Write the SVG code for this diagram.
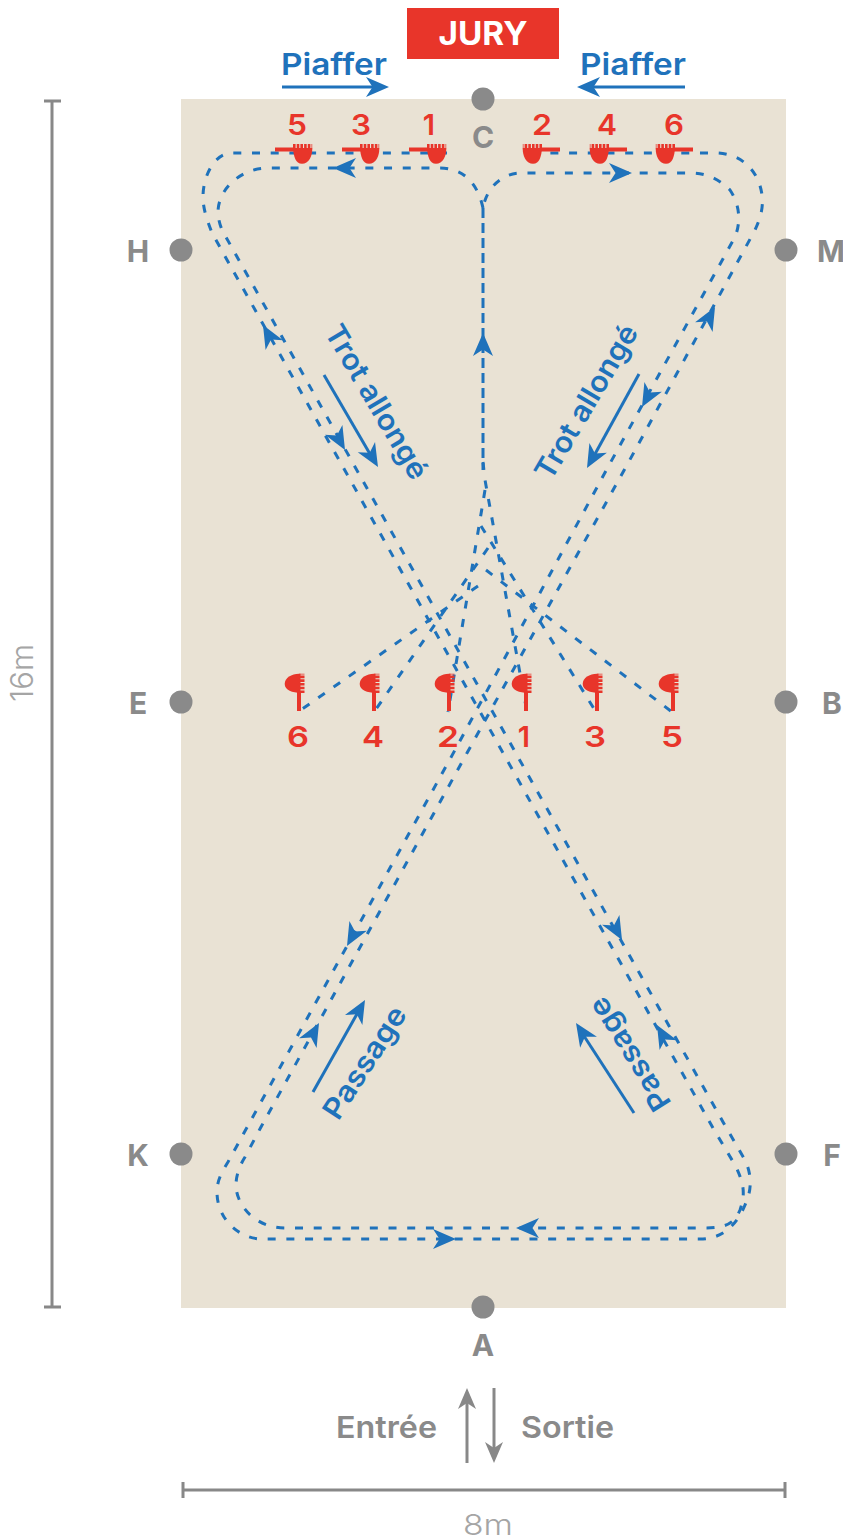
<svg xmlns="http://www.w3.org/2000/svg" xmlns:xlink="http://www.w3.org/1999/xlink" width="843" height="1540" viewBox="0 0 843 1540">
<style>
text{font-family:Inter,"Liberation Sans",sans-serif;font-weight:700}
.route{fill:none;stroke:#1f72bb;stroke-width:3;stroke-dasharray:8 10.7}
.line{fill:none;stroke:#1f72bb;stroke-width:3}
.blue{fill:#1f72bb;font-size:30px;font-weight:600}
.along{font-size:29px}
.red{fill:#e8352a;font-size:29px;text-anchor:middle;font-weight:600}
.grey{fill:#8a8a8a;font-size:30px;text-anchor:middle}
.lbl{fill:#8a8a8a;font-size:30px;font-weight:600}
.thin{fill:#a5a5a5;font-size:31px;font-weight:300;text-anchor:middle}
.dim{fill:none;stroke:#888;stroke-width:3}
.pt{fill:#8a8a8a}
</style>
<defs>
<path id="ah" d="M0 0L-23 -10L-16.5 0L-23 10Z" fill="#1f72bb"/>
<path id="ahg" d="M0 0L-21 -9L-15 0L-21 9Z" fill="#888"/>
<g id="cav">
<rect x="-18" y="3.5" width="19" height="4" fill="#e8352a"/>
<path d="M0 4H19.2C19.8 12 15.5 19.8 9 19.8C2.5 19.8 .5 12 0 4Z" fill="#e8352a"/>
<path d="M0 2.7H19.2" stroke="#e8352a" stroke-width="5.4" stroke-dasharray="2.6 1.1" fill="none"/>
</g>
</defs>
<rect id="arena" x="181" y="99" width="605" height="1209" fill="#e9e2d4"/>
<g id="connectors">
<path class="route" d="M483 208C478 185 465 168 440 168H268C240 168 218 190 218 212C218 218 220 225 222 230L723 1122L745 1160C752 1175 752 1190 745 1205C738 1222 725 1239 700 1239H262C240 1239 217 1220 217 1192C217 1180 222 1172 228 1162L250 1122L455 750L608 467L735 237C741 222 740 205 730 190C718 178 705 173 690 173H522C500 173 486 190 483 208"/>
<path class="route" d="M447 153H232C215 153 203 175 203 197C203 210 208 222 212 233L713 1128L735 1165C745 1185 745 1195 740 1210C735 1222 728 1228 705 1228H285C255 1228 236 1205 236 1185C236 1175 240 1165 245 1157L261 1127L467 753L627 465L755 230C762 215 766 200 758 180C750 163 735 153 715 153H540"/>
<path class="route" style="stroke-dasharray:10 5" d="M483 208V470"/>
<path class="route" d="M483 462L485 480L527 712"/>
<path class="route" d="M485 490L448 712"/>
<path class="route" d="M481 526L596 712"/>
<path class="route" d="M488 548L374 712"/>
<path class="route" d="M486 570L672 712"/>
<path class="route" d="M478 586L298 712"/>
<use xlink:href="#ah" href="#ah" transform="translate(333 168) rotate(180)"/>
<use xlink:href="#ah" href="#ah" transform="translate(632 173)"/>
<use xlink:href="#ah" href="#ah" transform="translate(483 333) rotate(-90)"/>
<use xlink:href="#ah" href="#ah" transform="translate(345 450) rotate(60.6)"/>
<use xlink:href="#ah" href="#ah" transform="translate(263 325) rotate(-119.4)"/>
<use xlink:href="#ah" href="#ah" transform="translate(642 407) rotate(119)"/>
<use xlink:href="#ah" href="#ah" transform="translate(715 307) rotate(-61)"/>
<use xlink:href="#ah" href="#ah" transform="translate(347 946) rotate(119)"/>
<use xlink:href="#ah" href="#ah" transform="translate(319 1023) rotate(-61)"/>
<use xlink:href="#ah" href="#ah" transform="translate(622 940) rotate(60.6)"/>
<use xlink:href="#ah" href="#ah" transform="translate(657 1025) rotate(-119.4)"/>
<use xlink:href="#ah" href="#ah" transform="translate(456 1239)"/>
<use xlink:href="#ah" href="#ah" transform="translate(516 1228) rotate(180)"/>
</g>
<g id="jury"><rect x="407" y="8" width="152" height="51" fill="#e8352a"/><text x="483" y="45" fill="#fff" font-size="32" text-anchor="middle" textLength="89" lengthAdjust="spacingAndGlyphs">JURY</text></g>
<g id="piaffer-left"><text class="blue" x="281" y="75" textLength="106" lengthAdjust="spacingAndGlyphs">Piaffer</text><path class="line" d="M282 87H376"/><use href="#ah" transform="translate(389 87)"/></g>
<g id="piaffer-right"><text class="blue" x="580" y="75" textLength="106" lengthAdjust="spacingAndGlyphs">Piaffer</text><path class="line" d="M685 87H590"/><use href="#ah" transform="translate(577 87) rotate(180)"/></g>
<g id="trot-left"><text class="blue along" transform="translate(368 407) rotate(59.5)" text-anchor="middle" textLength="174" lengthAdjust="spacingAndGlyphs">Trot allongé</text><path class="line" d="M324 375L370 454"/><use href="#ah" transform="translate(378 467) rotate(59.7)"/></g>
<g id="trot-right"><text class="blue along" transform="translate(595 407) rotate(-59.5)" text-anchor="middle" textLength="174" lengthAdjust="spacingAndGlyphs">Trot allongé</text><path class="line" d="M639 374L595 454"/><use href="#ah" transform="translate(587 468) rotate(119)"/></g>
<g id="passage-left"><text class="blue along" transform="translate(373 1068) rotate(-57)" text-anchor="middle" textLength="128" lengthAdjust="spacingAndGlyphs">Passage</text><path class="line" d="M313 1092L357 1014"/><use href="#ah" transform="translate(365 1000) rotate(-60.5)"/></g>
<g id="passage-right"><text class="blue along" transform="translate(638 1049) rotate(-122)" text-anchor="middle" textLength="128" lengthAdjust="spacingAndGlyphs">Passage</text><path class="line" d="M634 1113L584 1036"/><use href="#ah" transform="translate(576 1023) rotate(-123)"/></g>
<g id="cavalettes-top">
<use href="#cav" transform="translate(293 144)"/><use href="#cav" transform="translate(360 144)"/><use href="#cav" transform="translate(427 144)"/>
<use href="#cav" transform="translate(542 144) scale(-1 1)"/><use href="#cav" transform="translate(609 144) scale(-1 1)"/><use href="#cav" transform="translate(675 144) scale(-1 1)"/>
<text class="red" x="297" y="135" textLength="20" lengthAdjust="spacingAndGlyphs">5</text><text class="red" x="361" y="135" textLength="20" lengthAdjust="spacingAndGlyphs">3</text><text class="red" x="429" y="135">1</text><text class="red" x="542" y="135" textLength="20" lengthAdjust="spacingAndGlyphs">2</text><text class="red" x="607" y="135" textLength="20" lengthAdjust="spacingAndGlyphs">4</text><text class="red" x="674" y="135" textLength="20" lengthAdjust="spacingAndGlyphs">6</text>
</g>
<g id="cavalettes-mid">
<use href="#cav" transform="matrix(0 -1 -1 0 304.5 693)"/><use href="#cav" transform="matrix(0 -1 -1 0 379.5 693)"/><use href="#cav" transform="matrix(0 -1 -1 0 454.5 693)"/><use href="#cav" transform="matrix(0 -1 -1 0 531.5 693)"/><use href="#cav" transform="matrix(0 -1 -1 0 602.5 693)"/><use href="#cav" transform="matrix(0 -1 -1 0 678.5 693)"/>
<text class="red" x="298" y="747" textLength="22" lengthAdjust="spacingAndGlyphs">6</text><text class="red" x="373" y="747" textLength="22" lengthAdjust="spacingAndGlyphs">4</text><text class="red" x="448" y="747" textLength="22" lengthAdjust="spacingAndGlyphs">2</text><text class="red" x="524" y="747">1</text><text class="red" x="595" y="747" textLength="22" lengthAdjust="spacingAndGlyphs">3</text><text class="red" x="672" y="747" textLength="22" lengthAdjust="spacingAndGlyphs">5</text>
</g>
<g id="point-c"><circle class="pt" cx="483" cy="99" r="11.5"/><text class="grey" x="483" y="148">C</text></g>
<g id="point-h"><circle class="pt" cx="181" cy="250" r="11.5"/><text class="grey" x="138" y="262">H</text></g>
<g id="point-m"><circle class="pt" cx="786" cy="250" r="11.5"/><text class="grey" x="831" y="262">M</text></g>
<g id="point-e"><circle class="pt" cx="181" cy="702" r="11.5"/><text class="grey" x="138" y="714">E</text></g>
<g id="point-b"><circle class="pt" cx="786" cy="702" r="11.5"/><text class="grey" x="832" y="714">B</text></g>
<g id="point-k"><circle class="pt" cx="181" cy="1154" r="11.5"/><text class="grey" x="138" y="1166">K</text></g>
<g id="point-f"><circle class="pt" cx="786" cy="1154" r="11.5"/><text class="grey" x="832" y="1166">F</text></g>
<g id="point-a"><circle class="pt" cx="483" cy="1307" r="11.5"/><text class="grey" x="483" y="1356">A</text></g>
<g id="entry"><text class="lbl" x="336" y="1438" textLength="101" lengthAdjust="spacingAndGlyphs">Entrée</text><path class="dim" d="M467 1463V1400"/><use href="#ahg" transform="translate(467 1388) rotate(-90)"/></g>
<g id="exit"><text class="lbl" x="521" y="1438" textLength="93" lengthAdjust="spacingAndGlyphs">Sortie</text><path class="dim" d="M494 1388V1450"/><use href="#ahg" transform="translate(494 1463) rotate(90)"/></g>
<g id="dim-16m"><path class="dim" d="M52 101V1307M44 101H61M44 1307H61"/><text class="thin" transform="translate(33 673) rotate(-90)">16m</text></g>
<g id="dim-8m"><path class="dim" d="M183 1490H785M183 1482V1498M785 1482V1498"/><text class="thin" x="488" y="1535" textLength="50" lengthAdjust="spacingAndGlyphs" style="font-size:29px">8m</text></g>
</svg>
